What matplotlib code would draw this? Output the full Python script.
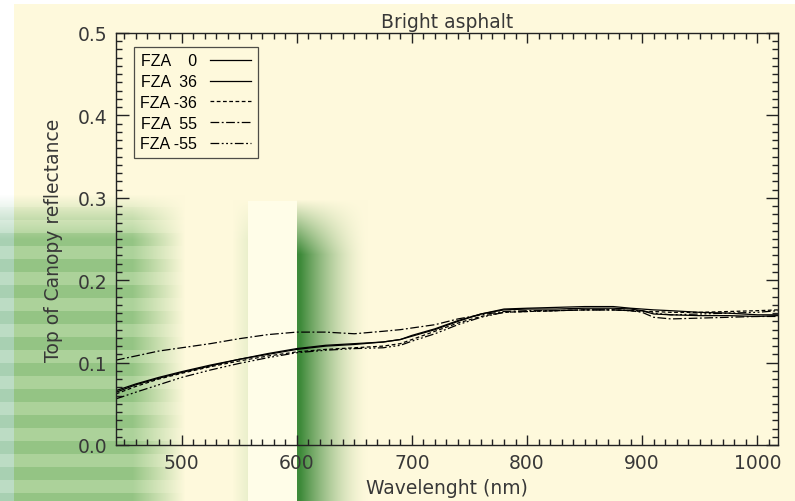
import numpy as np
import matplotlib.pyplot as plt

# wavelengths (nm) and top-of-canopy reflectance for each view angle
wavelength = [443, 460, 480, 500, 525, 550, 575, 600, 625, 650, 675, 690, 700, 720,
              740, 760, 780, 800, 825, 850, 875, 890, 900, 910, 925, 950, 975, 1000, 1018]
fza_0 = [0.066, 0.074, 0.082, 0.089, 0.097, 0.104, 0.111, 0.117, 0.121, 0.123, 0.125,
         0.128, 0.132, 0.140, 0.150, 0.159, 0.165, 0.166, 0.167, 0.168, 0.168, 0.166,
         0.165, 0.164, 0.163, 0.161, 0.160, 0.158, 0.158]
fza_36 = [0.064, 0.073, 0.081, 0.088, 0.096, 0.104, 0.110, 0.116, 0.120, 0.122, 0.125,
          0.128, 0.133, 0.141, 0.151, 0.159, 0.164, 0.165, 0.165, 0.166, 0.166, 0.165,
          0.163, 0.159, 0.158, 0.157, 0.157, 0.156, 0.157]
fza_m36 = [0.062, 0.071, 0.080, 0.087, 0.095, 0.102, 0.108, 0.113, 0.116, 0.118, 0.120,
           0.123, 0.128, 0.138, 0.148, 0.156, 0.161, 0.162, 0.163, 0.164, 0.164, 0.163,
           0.162, 0.162, 0.161, 0.161, 0.162, 0.163, 0.164]
fza_55 = [0.103, 0.108, 0.114, 0.118, 0.123, 0.129, 0.134, 0.137, 0.137, 0.135, 0.138,
          0.140, 0.142, 0.146, 0.153, 0.158, 0.162, 0.163, 0.163, 0.164, 0.164, 0.163,
          0.161, 0.155, 0.153, 0.154, 0.155, 0.156, 0.156]
fza_m55 = [0.056, 0.064, 0.073, 0.082, 0.091, 0.099, 0.106, 0.112, 0.115, 0.117, 0.118,
           0.121, 0.126, 0.135, 0.146, 0.155, 0.161, 0.162, 0.163, 0.164, 0.164, 0.163,
           0.163, 0.160, 0.158, 0.159, 0.160, 0.161, 0.163]

labels = ['FZA    0', 'FZA  36', 'FZA -36', 'FZA  55', 'FZA -55']
styles = ['-', '-', (0, (3, 2)), (0, (7, 2, 1.5, 2)), (0, (7, 2, 1.5, 2, 1.5, 2, 1.5, 2))]
series = [fza_0, fza_36, fza_m36, fza_55, fza_m55]

W, H = 795, 502
fig = plt.figure(figsize=(W / 100, H / 100), dpi=100)

# ---- decorative background (cream page with green washes) ----
yy, xx = np.mgrid[0:H, 0:W].astype(float)
white = np.array([1.0, 1.0, 1.0])
cream = np.array([254, 249, 220]) / 255
pale = np.array([255, 253, 232]) / 255
g_dark = np.array([62, 138, 58]) / 255
g_mid = np.array([148, 196, 132]) / 255
g_light = np.array([172, 210, 154]) / 255
g_blue = np.array([168, 208, 178]) / 255
g_blue2 = np.array([188, 220, 196]) / 255

bg = np.ones((H, W, 3)) * cream
bg[(xx < 14) | (yy < 5)] = white

def ramp(v, a, b):
    return np.clip((v - a) / (b - a), 0, 1)

# striped block on the left
stripe = ((yy // 13) % 2 == 0)[..., None]
stripe_col = np.where(stripe, g_mid, g_light)
stripe_col = np.where((xx < 14)[..., None], np.where(stripe, g_blue, g_blue2), stripe_col)
w_left = ramp(yy, 195, 240) * (1 - ramp(xx, 132, 185))
w_left = w_left[..., None]
bg = bg * (1 - w_left) + stripe_col * w_left

# pale bar
bar = (xx >= 248) & (xx < 297) & (yy >= 202)
w_glow = (ramp(xx, 232, 248) * (1 - ramp(xx, 248, 250)) * ramp(yy, 200, 240) * 0.25)[..., None]
bg = bg * (1 - w_glow) + g_light * w_glow
bg[bar] = pale

# dark green band
w_band = (xx >= 297) * ramp(yy, 200, 255) * (1 - ramp(xx, 300, 368)) ** 1.6
w_band = w_band[..., None]
bg = bg * (1 - w_band) + g_dark * w_band

ax_bg = fig.add_axes([0, 0, 1, 1], zorder=0)
ax_bg.imshow(bg, aspect='auto', interpolation='bilinear')
ax_bg.axis('off')

# ---- main plot ----
ax = fig.add_axes([116 / W, (H - 446) / H, (778 - 116) / W, (446 - 34) / H], zorder=1)
ax.set_facecolor('none')

for vals, ls, lab in zip(series, styles, labels):
    ax.plot(wavelength, vals, color='black', lw=0.9, linestyle=ls, label=lab)

ax.set_xlim(443, 1018)
ax.set_ylim(0, 0.5)
ax.set_xticks([500, 600, 700, 800, 900, 1000])
ax.set_xticks(np.arange(450, 1020, 10), minor=True)
ax.set_yticks([0.0, 0.1, 0.2, 0.3, 0.4, 0.5])
ax.set_yticklabels(['0.0', '0.1', '0.2', '0.3', '0.4', '0.5'])
ax.set_yticks(np.arange(0, 0.5, 0.01), minor=True)

txt = '#383838'
for s in ax.spines.values():
    s.set_color('#222222')
    s.set_linewidth(1.0)
ax.tick_params(axis='both', which='both', direction='in', top=True, right=True,
               color='#222222', labelcolor=txt, labelsize=13.5, width=1.0)
ax.tick_params(axis='x', which='major', length=7, pad=6)
ax.tick_params(axis='x', which='minor', length=4)
ax.tick_params(axis='y', which='major', length=9, pad=6)
ax.tick_params(axis='y', which='minor', length=4.5)

ax.set_title('Bright asphalt', fontsize=13.5, color=txt, pad=4)
ax.set_xlabel('Wavelenght (nm)', fontsize=13.5, color=txt, labelpad=4)
ax.set_ylabel('Top of Canopy reflectance', fontsize=13.5, color=txt, labelpad=11)

leg = ax.legend(loc='upper left', bbox_to_anchor=(0.027, 0.966), borderaxespad=0,
                markerfirst=False, fancybox=False, frameon=True, handlelength=2.6,
                handletextpad=0.8, labelspacing=0.36, borderpad=0.4,
                prop={'family': 'Liberation Sans', 'size': 11.5})
leg.get_frame().set_facecolor('none')
leg.get_frame().set_edgecolor('#222222')
leg.get_frame().set_linewidth(0.9)

fig.savefig('out.png', dpi=100)
